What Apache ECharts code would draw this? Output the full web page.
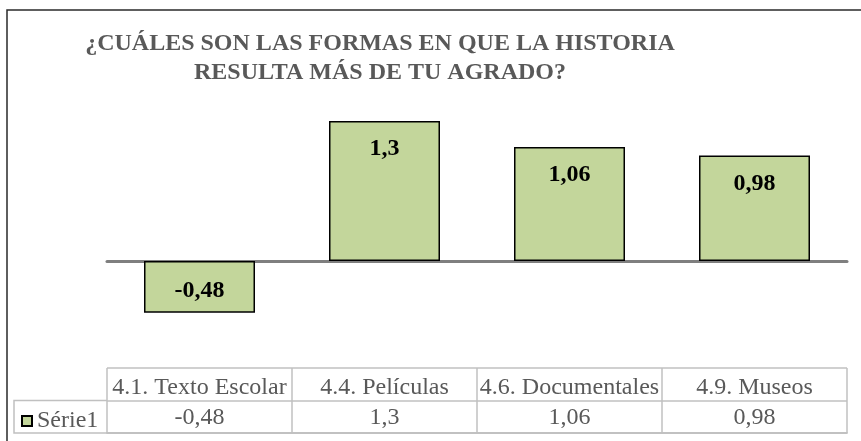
<!DOCTYPE html>
<html>
<head>
<meta charset="utf-8">
<script src="https://cdn.jsdelivr.net/npm/echarts@6/dist/echarts.min.js"></script>
<style>
  html, body { margin: 0; padding: 0; background: #fff; }
  #chart { width: 861px; height: 441px; }
</style>
</head>
<body>
<div id="chart"></div>
<script>
var titleText = "¿CUÁLES SON LAS FORMAS EN QUE LA HISTORIA\nRESULTA MÁS DE TU AGRADO?";
var categories = ["4.1. Texto Escolar", "4.4. Películas", "4.6. Documentales", "4.9. Museos"];
var seriesName = "Série1";
var values = [-0.48, 1.3, 1.06, 0.98];

function fmt(v) {
  return String(v).replace(".", ",");
}

var tableGrey = "#c0c0c0";
var textGrey = "#595959";
var serif = "'Liberation Serif'";

var myChart = echarts.init(document.getElementById("chart"));

var option = {
  animation: false,
  title: {
    text: titleText,
    left: 375,
    top: 24,
    textAlign: "center",
    textStyle: {
      fontFamily: serif,
      fontWeight: "bold",
      fontSize: 24,
      lineHeight: 29,
      color: textGrey
    }
  },
  legend: {
    left: 16,
    top: 404,
    icon: "rect",
    itemWidth: 10,
    itemHeight: 10,
    textStyle: { fontFamily: serif, fontSize: 24, color: textGrey }
  },
  grid: [
    // plot area
    { left: 107, right: 14, top: 99.5, height: 269.2 },
    // data table
    { left: 107, right: 14, top: 368, height: 65 }
  ],
  xAxis: [
    {
      gridIndex: 0,
      type: "category",
      data: categories,
      axisLine: { onZero: true, lineStyle: { color: "#7f7f7f", width: 3 } },
      axisTick: { show: false },
      axisLabel: { show: false },
      splitLine: { show: false }
    },
    {
      gridIndex: 1,
      type: "category",
      position: "top",
      data: categories,
      axisLine: { show: true, lineStyle: { color: tableGrey, width: 1.5 } },
      axisTick: { show: false },
      axisLabel: {
        inside: true,
        interval: 0,
        hideOverlap: false,
        margin: 8,
        fontFamily: serif,
        fontSize: 24,
        color: textGrey
      },
      splitLine: { show: true, interval: 0, lineStyle: { color: tableGrey, width: 1.5 } }
    },
    {
      gridIndex: 1,
      type: "category",
      position: "bottom",
      data: values.map(fmt),
      axisLine: { show: true, lineStyle: { color: tableGrey, width: 1.5 } },
      axisTick: { show: false },
      axisLabel: {
        inside: true,
        interval: 0,
        margin: 3,
        fontFamily: serif,
        fontSize: 24,
        color: textGrey
      },
      splitLine: { show: false }
    }
  ],
  yAxis: [
    {
      gridIndex: 0,
      type: "value",
      min: -1,
      max: 1.5,
      interval: 0.5,
      show: false
    },
    {
      gridIndex: 1,
      type: "value",
      min: 0,
      max: 2,
      interval: 1,
      axisLine: { show: false },
      axisTick: { show: false },
      axisLabel: { show: false },
      splitLine: { show: true, lineStyle: { color: tableGrey, width: 1.5 } }
    }
  ],
  series: [
    {
      name: seriesName,
      type: "bar",
      xAxisIndex: 0,
      yAxisIndex: 0,
      barCategoryGap: "40%",
      data: values.map(function (v) {
        return {
          value: v,
          label: v < 0 ? { position: "inside", offset: [0, 4] } : { position: "insideTop" }
        };
      }),
      itemStyle: { color: "#C3D69B", borderColor: "#000", borderWidth: 1.5 },
      label: {
        show: true,
        distance: 16,
        fontFamily: serif,
        fontWeight: "bold",
        fontSize: 24,
        color: "#000",
        formatter: function (p) {
          return fmt(p.value);
        }
      }
    }
  ],
  graphic: [
    // outer chart border (runs past the picture on the right and bottom)
    {
      type: "rect",
      shape: { x: 7, y: 10, width: 900, height: 500 },
      style: { fill: null, stroke: "#2a2a2a", lineWidth: 1.5 },
      silent: true
    },
    // legend cell of the data table
    {
      type: "polyline",
      shape: { points: [[107, 400.5], [14, 400.5], [14, 433], [107, 433]] },
      style: { fill: null, stroke: tableGrey, lineWidth: 1.5 },
      silent: true
    }
  ]
};

myChart.setOption(option);
window.onresize = myChart.resize;
</script>
</body>
</html>
